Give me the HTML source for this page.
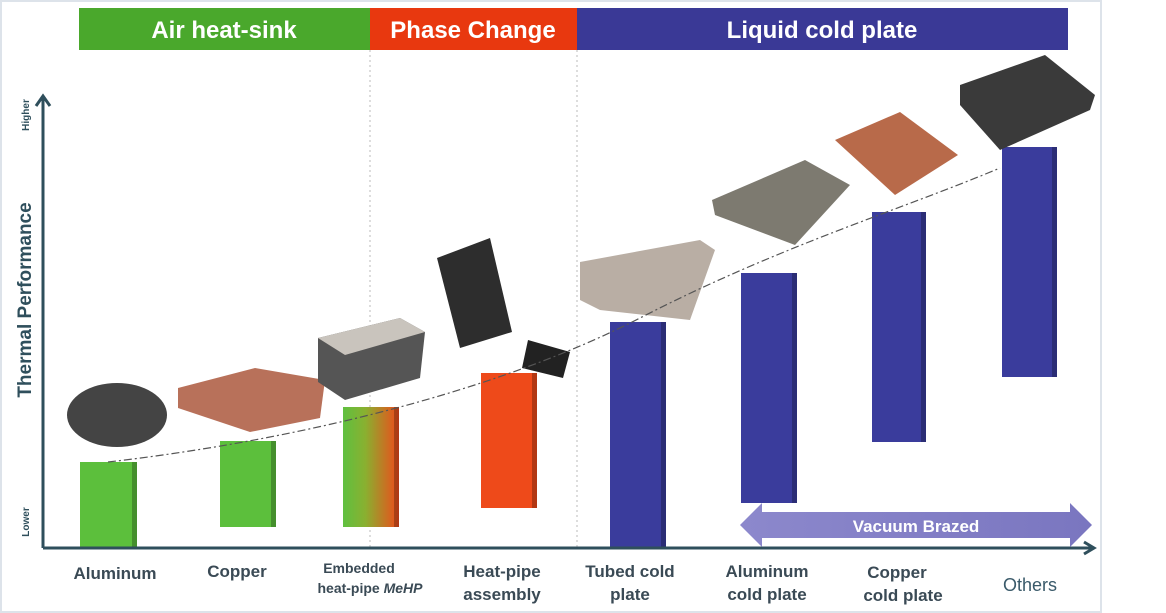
<!DOCTYPE html>
<html><head><style>
body{margin:0;background:#fff;}
svg{display:block;font-family:"Liberation Sans",sans-serif;}
</style></head><body>
<svg width="1166" height="613" viewBox="0 0 1166 613">
<defs>
<linearGradient id="gr" x1="0" x2="1"><stop offset="0" stop-color="#5fc040"/><stop offset="0.4" stop-color="#8ab030"/><stop offset="1" stop-color="#ee4a1a"/></linearGradient>
<linearGradient id="vb" x1="0" x2="1"><stop offset="0" stop-color="#8c88cc"/><stop offset="1" stop-color="#7a76c0"/></linearGradient>
</defs>
<rect x="1" y="1" width="1100" height="611" fill="#fff" stroke="#dde3ea" stroke-width="2"/>
<rect x="79" y="8" width="291" height="42" fill="#4aa82c"/>
<rect x="370" y="8" width="207" height="42" fill="#e8380f"/>
<rect x="577" y="8" width="491" height="42" fill="#3a3996"/>
<g fill="#fff" font-weight="bold" font-size="24" text-anchor="middle">
<text x="224" y="38">Air heat-sink</text>
<text x="473" y="38">Phase Change</text>
<text x="822" y="38">Liquid cold plate</text>
</g>
<g stroke="#bbb" stroke-dasharray="2,3" stroke-width="1">
<line x1="370" y1="50" x2="370" y2="548"/><line x1="577" y1="50" x2="577" y2="548"/>
</g>
<!-- bars -->
<g>
<rect x="80" y="462" width="57" height="86" fill="#5cbf3c"/>
<rect x="220" y="441" width="56" height="86" fill="#5cbf3c"/>
<rect x="343" y="407" width="56" height="120" fill="url(#gr)"/>
<rect x="481" y="373" width="56" height="135" fill="#ee4a1a"/>
<rect x="610" y="322" width="56" height="226" fill="#3a3c9c"/>
<rect x="741" y="273" width="56" height="230" fill="#3a3c9c"/>
<rect x="872" y="212" width="54" height="230" fill="#3a3c9c"/>
<rect x="1002" y="147" width="55" height="230" fill="#3a3c9c"/>
</g>
<g fill="#000" opacity="0.25">
<rect x="132" y="462" width="5" height="86"/><rect x="271" y="441" width="5" height="86"/>
<rect x="394" y="407" width="5" height="120"/><rect x="532" y="373" width="5" height="135"/>
<rect x="661" y="322" width="5" height="226"/><rect x="792" y="273" width="5" height="230"/>
<rect x="921" y="212" width="5" height="230"/><rect x="1052" y="147" width="5" height="230"/>
</g>
<!-- images approx -->
<ellipse cx="117" cy="415" rx="50" ry="32" fill="#444"/>
<polygon points="178,388 255,368 325,380 320,418 250,432 178,408" fill="#b8715a"/>
<polygon points="318,338 400,318 425,332 420,378 345,400 318,382" fill="#555"/>
<polygon points="318,338 400,318 425,332 345,355" fill="#c9c4bd"/>
<polygon points="437,258 490,238 512,332 460,348" fill="#2d2d2d"/>
<polygon points="528,340 570,352 563,378 522,368" fill="#222"/>
<polygon points="580,262 700,240 715,250 690,320 600,310 580,300" fill="#b9aea4"/>
<polygon points="712,200 805,160 850,185 795,245 715,215" fill="#7d7a70"/>
<polygon points="835,140 900,112 958,155 895,195" fill="#b86a4a"/>
<polygon points="960,85 1045,55 1095,95 1090,110 1000,150 960,105" fill="#3a3a3a"/>
<!-- trend -->
<path d="M108 462 C 300 440, 500 390, 640 318 S 900 210, 1000 168" fill="none" stroke="#555" stroke-width="1.2" stroke-dasharray="8,3,2,3"/>
<!-- axes -->
<g stroke="#2f4f5c" stroke-width="3" fill="none">
<line x1="43" y1="548" x2="43" y2="97"/>
<polyline points="36,106 43,96 50,106"/>
<line x1="43" y1="548" x2="1092" y2="548"/>
<polyline points="1084,542 1094,548 1084,554"/>
</g>
<!-- vacuum brazed -->
<polygon points="740,525 762,503 762,512 1070,512 1070,503 1092,525 1070,547 1070,538 762,538 762,547" fill="url(#vb)"/>
<text x="916" y="532" fill="#fff" font-size="17" font-weight="bold" text-anchor="middle">Vacuum Brazed</text>
<g fill="#2f4f5c" font-weight="bold">
<text transform="translate(31,300) rotate(-90)" font-size="19" text-anchor="middle">Thermal Performance</text>
<text transform="translate(29,115) rotate(-90)" font-size="10" text-anchor="middle">Higher</text>
<text transform="translate(29,522) rotate(-90)" font-size="10" text-anchor="middle">Lower</text>
</g>
<g fill="#3a4a55" font-weight="bold" font-size="17" text-anchor="middle">
<text x="115" y="579">Aluminum</text>
<text x="237" y="577">Copper</text>
<text x="359" y="573" font-size="14">Embedded</text>
<text x="370" y="593" font-size="14">heat-pipe <tspan font-style="italic">MeHP</tspan></text>
<text x="502" y="577">Heat-pipe</text>
<text x="502" y="600">assembly</text>
<text x="630" y="577">Tubed cold</text>
<text x="630" y="600">plate</text>
<text x="767" y="577">Aluminum</text>
<text x="767" y="600">cold plate</text>
<text x="897" y="578">Copper</text>
<text x="903" y="601">cold plate</text>
<text x="1030" y="591" font-weight="normal" font-size="18" fill="#3a5a6a">Others</text>
</g>
</svg>
</body></html>
